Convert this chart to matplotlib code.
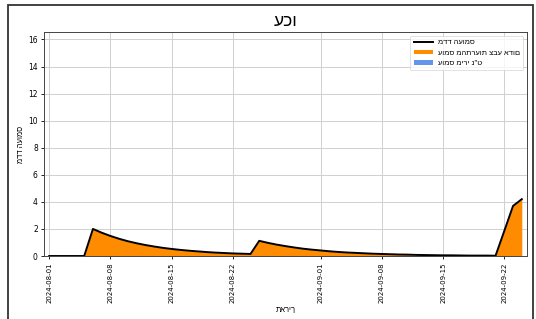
import datetime
import matplotlib
matplotlib.use("Agg")
import matplotlib.pyplot as plt
import matplotlib.dates as mdates
from matplotlib.patches import Rectangle

# daily values, 2024-08-01 .. 2024-09-24
start_date = datetime.date(2024, 8, 1)
red_alert_load = [
    0, 0, 0, 0, 0,
    2.0, 1.72, 1.48, 1.27, 1.09, 0.94, 0.81, 0.70, 0.60, 0.52, 0.45, 0.39,
    0.34, 0.29, 0.25, 0.22, 0.19, 0.17, 0.15,
    1.12, 0.97, 0.84, 0.73, 0.63, 0.54, 0.47,
    0.41, 0.35, 0.30, 0.26, 0.23, 0.20, 0.17, 0.15, 0.13, 0.11, 0.10, 0.08,
    0.07, 0.06, 0.05, 0.05, 0.04, 0.03, 0.03, 0.03,
    0.02, 1.85, 3.7, 4.2,
]
at_fire_load = [0] * len(red_alert_load)
dates = [start_date + datetime.timedelta(days=i) for i in range(len(red_alert_load))]
total_load = [r + a for r, a in zip(red_alert_load, at_fire_load)]

title = "עכו"
xlabel = "תאריך"
ylabel = "מדד העומס"
label_total = "מדד העומס"
label_red = "עומס מהתרעות צבע אדום"
label_at = "עומס מירי נ\"ט"

plt.rcParams["font.family"] = ["DejaVu Sans"]
heb = ["Liberation Sans", "DejaVu Sans"]

fig = plt.figure(figsize=(5.36, 3.19), dpi=100)
ax = fig.add_axes([44 / 536, 1 - 256 / 319, 483 / 536, 224 / 319])

ax.plot(dates, total_load, color="black", lw=1.4, label=label_total, zorder=3)
ax.fill_between(dates, 0, red_alert_load, color="darkorange", label=label_red, lw=0)
stack = [r + a for r, a in zip(red_alert_load, at_fire_load)]
ax.fill_between(dates, red_alert_load, stack, color="cornflowerblue", label=label_at, lw=0)

ax.set_ylim(0, 16.55)
ax.margins(x=0.011)
ax.xaxis.set_major_locator(mdates.DayLocator(bymonthday=[1, 8, 15, 22]))
ax.xaxis.set_major_formatter(mdates.DateFormatter("%Y-%m-%d"))
ax.tick_params(axis="x", labelrotation=90, labelsize=5, length=2.5, width=0.6, pad=2)
ax.tick_params(axis="y", labelsize=5.5, length=2.5, width=0.6, pad=2)
ax.grid(True, color="#d0d0d0", lw=0.7)
ax.set_axisbelow(True)
for s in ax.spines.values():
    s.set_linewidth(0.7)
    s.set_color("#444444")

ax.set_title(title, fontsize=12.5, pad=4, family=heb)
ax.set_xlabel(xlabel, fontsize=5.5, labelpad=3, family=heb)
ax.set_ylabel(ylabel, fontsize=5.5, labelpad=2, family=heb)

leg = ax.legend(loc="upper right", handlelength=2.6, handleheight=0.6,
                borderpad=0.45, labelspacing=0.45, handletextpad=0.6,
                frameon=True, fancybox=True,
                prop={"family": heb, "size": 5.4})
leg.get_frame().set_linewidth(0.5)

fig.patches.append(Rectangle((8 / 536, -0.1), 525 / 536, 1.1 - 5 / 319,
                             transform=fig.transFigure, fill=False,
                             edgecolor="#333333", lw=1.3, clip_on=False))

fig.savefig("out.png", dpi=100)
